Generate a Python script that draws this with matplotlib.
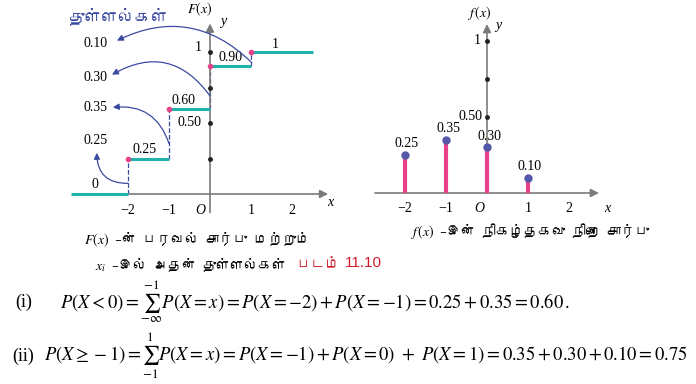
import matplotlib
matplotlib.use('Agg')
import matplotlib.pyplot as plt
from matplotlib import font_manager, ft2font

# data
x_vals = [-2, -1, 0, 1]
probs = [0.25, 0.35, 0.30, 0.10]
prob_labels = ['0.25', '0.35', '0.30', '0.10']
cdf_vals = [0, 0.25, 0.60, 0.90, 1]
cdf_labels = ['0', '0.25', '0.60', '0.90', '1']
tick_vals = [-2, -1, 0, 1, 2]
tick_labels = ['\u22122', '\u22121', 'O', '1', '2']
jump_labels = ['0.25', '0.35', '0.30', '0.10']

# colours
teal = '#22b2ac'
pink = '#e8408a'
blue = '#3b4aa0'
dot_blue = '#5558a8'
axis_grey = '#7a7a7a'


# look for a font that has Tamil glyphs
def find_tamil():
    for fe in font_manager.fontManager.ttflist:
        try:
            cm = ft2font.FT2Font(fe.fname).get_charmap()
        except Exception:
            continue
        if 0x0BA4 in cm and 0x0B95 in cm:
            return fe.name
    return None


tf = find_tamil()
tamil_fam = [tf, 'DejaVu Sans'] if tf else ['DejaVu Sans']
serif = 'Liberation Serif'
plt.rcParams['mathtext.fontset'] = 'stix'

W, H = 696, 384
fig = plt.figure(figsize=(W / 100, H / 100), dpi=100)


def px_box(x0, y0, x1, y1):
    return [x0 / W, 1 - y1 / H, (x1 - x0) / W, (y1 - y0) / H]


# ---------- left: distribution function ----------
ox, oy, sx, sy = 210, 194, 41, 142
ax = fig.add_axes(px_box(0, 0, 340, 215))
ax.set_xlim(-ox / sx, (340 - ox) / sx)
ax.set_ylim((oy - 215) / sy, oy / sy)
ax.axis('off')

# axes lines
ax.annotate('', xy=(2.95, 0), xytext=(-3.4, 0),
            arrowprops=dict(arrowstyle='-|>', color=axis_grey, lw=1.2, mutation_scale=12))
ax.annotate('', xy=(0, 1.22), xytext=(0, -0.15),
            arrowprops=dict(arrowstyle='-|>', color=axis_grey, lw=1.2, mutation_scale=12))
ax.text(0.25, 1.19, 'y', family=serif, style='italic', fontsize=10)
ax.text(-0.25, 1.27, '$F(x)$', fontsize=10, ha='center')
ax.text(2.85, -0.06, 'x', family=serif, style='italic', fontsize=10, va='center')

# y-axis dots
for v in [0.25, 0.5, 0.75, 1]:
    ax.plot(0, v, 'o', color='#222222', ms=2.5, zorder=5)
ax.text(-0.2, 1.03, '1', family=serif, fontsize=10, ha='right', va='center')
ax.text(-0.2, 0.5, '0.50', family=serif, fontsize=10, ha='right', va='center')

# steps
edges = [-3.4] + x_vals + [2.5]
for i, c in enumerate(cdf_vals):
    ax.plot([edges[i], edges[i + 1]], [c, c], color=teal, lw=2.2, solid_capstyle='butt', zorder=3)
    if i > 0:
        ax.plot(edges[i], c, 'o', color=pink, ms=3, zorder=4)
        ax.plot([edges[i], edges[i]], [cdf_vals[i - 1], c], ls='--', color=blue, lw=0.9, zorder=2)
# labels on steps
lab_pos = [(-2.8, 0.07), (-1.6, 0.31), (-0.65, 0.66), (0.5, 0.96), (1.6, 1.05)]
for (lx, ly), t in zip(lab_pos, cdf_labels):
    ax.text(lx, ly, t, family=serif, fontsize=10, ha='center', va='center')

# jumps: labels on the left and curved arrows
ax.text(-2.25, 1.25, 'துள்ளல்கள்', family=tamil_fam, fontsize=12, color=blue,
        ha='center', va='center', style='italic')
jl_pos = [(-2.8, 0.38), (-2.8, 0.61), (-2.8, 0.82), (-2.8, 1.06)]
ends = [(-2.76, 0.29), (-2.37, 0.61), (-2.39, 0.84), (-2.27, 1.08)]
rads = [-0.5, 0.4, 0.45, 0.35]
for i, xv in enumerate(x_vals):
    ax.text(jl_pos[i][0], jl_pos[i][1], jump_labels[i], family=serif, fontsize=10,
            ha='center', va='center')
    y0 = cdf_vals[i] + 0.3 * (cdf_vals[i + 1] - cdf_vals[i])
    ax.annotate('', xy=ends[i], xytext=(xv, y0),
                arrowprops=dict(arrowstyle='-|>', color=blue, lw=0.9, mutation_scale=9,
                                shrinkA=0, shrinkB=0,
                                connectionstyle='arc3,rad=%s' % rads[i]))

# tick labels (figure pixels)
for v, t in zip(tick_vals, tick_labels):
    fig.text((ox + v * sx - (10 if t == 'O' else 0)) / W, 1 - 210 / H, t, family=serif,
             style='italic' if t == 'O' else 'normal', fontsize=10, ha='center', va='center')

# caption left
fig.text(195 / W, 1 - 240 / H, '$F(x)$ –ன் பரவல் சார்பு மற்றும்', family=tamil_fam,
         fontsize=10, ha='center', va='center')
fig.text(190 / W, 1 - 265 / H, '$x_i$ –இல் அதன் துள்ளல்கள்', family=tamil_fam,
         fontsize=10, ha='center', va='center')
fig.text(296 / W, 1 - 265 / H, 'படம்', family=tamil_fam, fontsize=10.5, color='#d01c2c',
         va='center')
fig.text(345 / W, 1 - 263 / H, '11.10', family='Liberation Sans', fontsize=11,
         color='#d01c2c', va='center')

# ---------- right: probability mass function ----------
rx, ry, rsx, rsy = 487, 193, 41, 152
ax2 = fig.add_axes(px_box(360, 0, 696, 240))
ax2.set_xlim((360 - rx) / rsx, (696 - rx) / rsx)
ax2.set_ylim((ry - 240) / rsy, ry / rsy)
ax2.axis('off')
ax2.annotate('', xy=(2.8, 0), xytext=(-2.8, 0),
             arrowprops=dict(arrowstyle='-|>', color=axis_grey, lw=1.2, mutation_scale=12))
ax2.annotate('', xy=(0, 1.13), xytext=(0, -0.02),
             arrowprops=dict(arrowstyle='-|>', color=axis_grey, lw=1.2, mutation_scale=12))
ax2.text(0.2, 1.08, 'y', family=serif, style='italic', fontsize=10)
ax2.text(-0.2, 1.16, '$f\\,(x)$', fontsize=10, ha='center')
ax2.text(2.85, -0.1, 'x', family=serif, style='italic', fontsize=10, va='center')
for v in [0.5, 0.75, 1]:
    ax2.plot(0, v, 'o', color='#222222', ms=2.5, zorder=5)
ax2.text(-0.15, 1.0, '1', family=serif, fontsize=10, ha='right', va='center')
ax2.text(-0.1, 0.5, '0.50', family=serif, fontsize=10, ha='right', va='center')
ax2.vlines(x_vals, 0, probs, color=pink, lw=3, zorder=3)
ax2.plot(x_vals, probs, 'o', color=dot_blue, ms=5, zorder=4)
for xv, p, t in zip(x_vals, probs, prob_labels):
    ax2.text(xv + 0.05, p + 0.03, t, family=serif, fontsize=10, ha='center', va='bottom')
for v, t in zip(tick_vals, tick_labels):
    fig.text((rx + v * rsx - (8 if t == 'O' else 0)) / W, 1 - 208 / H, t, family=serif,
             style='italic' if t == 'O' else 'normal', fontsize=10, ha='center', va='center')
fig.text(530 / W, 1 - 231 / H, '$f\\,(x)$ –இன் நிகழ்தகவு நிறை சார்பு', family=tamil_fam,
         fontsize=10, ha='center', va='center')

# ---------- equations ----------
fig.text(15 / W, 1 - 302 / H, '(i)', family=serif, fontsize=13, va='center')
fig.text(60 / W, 1 - 302 / H,
         r'$P(X<0)=\sum_{-\infty}^{-1}P(X=x)=P(X=-2)+P(X=-1)=0.25+0.35=0.60\,.$',
         fontsize=13.4, va='center')
fig.text(12 / W, 1 - 356 / H, '(ii)', family=serif, fontsize=13, va='center')
fig.text(44 / W, 1 - 356 / H,
         r'$P(X\geq-1)=\sum_{-1}^{1}P(X=x)=P(X=-1)+P(X=0)\ +\ P(X=1)=0.35+0.30+0.10=0.75$',
         fontsize=13.4, va='center')

fig.savefig('out.png', dpi=100)
